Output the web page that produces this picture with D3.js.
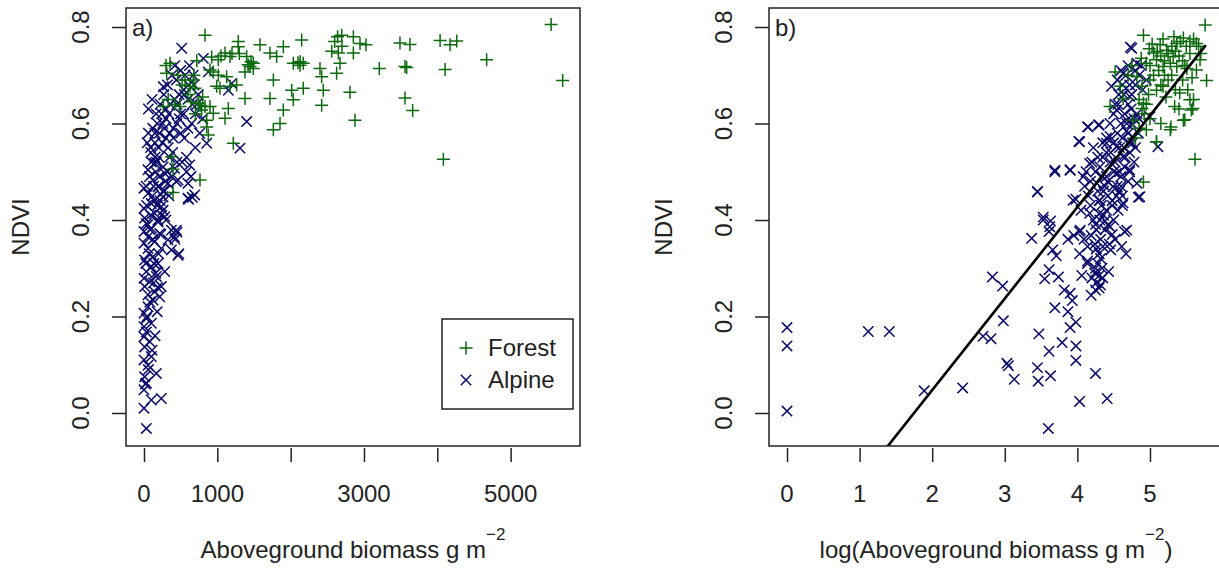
<!DOCTYPE html>
<html>
<head>
<meta charset="UTF-8">
<title>NDVI vs biomass</title>
<style>
    body { margin: 0; background: #fff; }
    svg { font-family: "Liberation Sans", Arial, sans-serif; }
    .frame { fill: none; stroke: #222; stroke-width: 1.5; }
    .tick line { stroke: #222; stroke-width: 1.5; }
    .lbl { fill: #222; font-size: 24px; }
</style>
</head>
<body>
<svg id="chart" width="1219" height="568"></svg>
<script src="https://cdn.jsdelivr.net/npm/d3@7"></script>
<script>

// ---- panel a): biomass (g m-2) vs NDVI ----
let forestBiomass = [5552,5710,4673,4083,4038,4174,4265,4106,3491,3627,3559,3582,3559,3664,3209,2809,2877,2696,2855,2946,3027,2855,2673,
    832,355,309,1286,1286,1582,1900,2150,2650,1105,1173,1400,1491,1718,1809,2036,2127,2172,2400,2423,2627,1764,2014,2172,2445,1377,1718,
    2036,2423,1900,1855,1764,1105,1150,945,1218,855,877,786,764,900,1036,1173,991,1263,1377,1445,1491,900,945,1014,1127,673,627,695,741,
    832,491,264,764,377,855,395,395,923,1014,2100,2130,1420,1460,600,680,560,720,640,700,800,300,330,460,420,520,2560,2600,2700,2640,1050,1200,1300];
let forestNdvi = [0.805,0.689,0.732,0.526,0.772,0.763,0.771,0.712,0.767,0.764,0.718,0.716,0.653,0.627,0.714,0.665,0.607,0.783,0.780,0.766,0.763,0.746,0.725,
    0.783,0.725,0.704,0.770,0.759,0.763,0.759,0.773,0.746,0.746,0.739,0.739,0.725,0.746,0.739,0.725,0.721,0.725,0.714,0.697,0.704,0.690,0.669,0.673,0.669,0.652,0.652,
    0.649,0.638,0.628,0.600,0.587,0.611,0.631,0.621,0.559,0.593,0.576,0.628,0.638,0.635,0.673,0.677,0.677,0.680,0.707,0.718,0.714,0.711,0.707,0.700,0.697,0.690,0.677,0.673,0.642,
    0.635,0.635,0.635,0.483,0.531,0.607,0.505,0.457,0.738,0.732,0.726,0.728,0.722,0.728,0.660,0.700,0.690,0.730,0.645,0.620,0.655,0.720,0.650,0.700,0.640,0.680,0.750,0.770,0.760,0.780,0.740,0.745,0.745];

let alpineBiomass = [32,0,100,236,0,32,9,168,55,0,100,9,77,0,32,0,100,32,0,55,123,214,55,145,236,9,77,0,168,282,32,100,191,9,123,464,373,236,55,0,145,327,414,55,214,0,373,100,441,32,191,9,282,145,0,236,100,259,55,600,691,0,191,327,123,464,600,282,55,418,623,145,
    264,514,809,1400,1309,1196,1150,877,855,659,607,450,475,423,
    150,200,250,300,350,400,450,500,550,600,650,700,180,120,240,300,360,420,480,540,600,660,320,380,440,500,560,270,210,330,390,450,520,580,640,260,320,380,440,200,280,340,160,100,700,760,800,740,620,680,420,480,540,580,220,260,300,180,130,90,60,150,
    20,60,110,150,40,80,130,180,25,70,120,160,200,50,90,140,190,230,30,75,115,170,210,260,45,95,150,205,255,300,60,110,165,220,280,340,35,85,135,185,240,290,350,400,450,500,550,610,670,720];
let alpineNdvi = [-0.032,0.010,0.027,0.030,0.048,0.062,0.075,0.082,0.099,0.110,0.117,0.137,0.148,0.158,0.168,0.179,0.186,0.196,0.207,0.220,0.234,0.241,0.245,0.251,0.262,0.262,0.272,0.279,0.283,0.293,0.293,0.303,0.310,0.317,0.324,0.327,0.338,0.341,0.341,0.352,0.355,0.359,0.365,0.365,0.372,0.376,0.379,0.383,0.379,0.393,0.396,0.404,0.407,0.414,0.424,0.428,0.434,0.448,0.455,0.445,0.452,0.466,0.469,0.476,0.483,0.483,0.476,0.497,0.504,0.507,0.514,0.518,
    0.676,0.756,0.735,0.604,0.549,0.683,0.669,0.707,0.559,0.447,0.443,0.375,0.330,0.360,
    0.53,0.55,0.56,0.57,0.58,0.59,0.60,0.58,0.57,0.59,0.60,0.62,0.60,0.59,0.62,0.63,0.64,0.65,0.66,0.67,0.65,0.64,0.68,0.70,0.69,0.71,0.70,0.66,0.58,0.55,0.54,0.52,0.52,0.50,0.49,0.51,0.50,0.49,0.48,0.47,0.46,0.45,0.50,0.52,0.55,0.58,0.61,0.66,0.72,0.68,0.72,0.61,0.62,0.53,0.44,0.42,0.40,0.43,0.47,0.55,0.58,0.56,
    0.06,0.09,0.13,0.16,0.20,0.23,0.27,0.21,0.31,0.33,0.36,0.29,0.33,0.39,0.41,0.44,0.40,0.37,0.47,0.49,0.45,0.52,0.49,0.46,0.56,0.54,0.58,0.53,0.60,0.61,0.63,0.65,0.62,0.64,0.59,0.62,0.43,0.38,0.31,0.26,0.41,0.48,0.53,0.57,0.64,0.62,0.66,0.68,0.70,0.64];

// ---- panel b): log(biomass) vs NDVI ----
let forestLog = [5.76,5.78,5.62,4.91,4.52,4.45,4.91,5.28,5.46,5.57,5.55,5.41,5.34,5.18,5.09,4.95,5.64,5.69,5.46,5.55,5.64,5.37,5.14,5.23,5.05,5.32,5.09,4.95,5.18,5.37,5.51,4.82,5.00,4.89,5.09,4.91,4.89,4.59,4.63,4.77,5.09,
    5.10,5.15,5.20,5.25,5.28,5.30,5.35,5.40,5.45,5.50,5.55,5.60,5.42,5.48,5.12,5.20,5.25,5.05,5.00,5.15,5.30,5.22,5.35,4.98,4.95,4.92,4.85,5.45,5.58,5.52,5.60,4.70,4.75,4.88,4.85,4.80,5.00,5.15,5.40,5.67,5.70,4.99,5.03,5.33,5.18,5.59,5.48,5.29];
let forestLogNdvi = [0.804,0.689,0.526,0.783,0.707,0.635,0.479,0.587,0.607,0.628,0.649,0.663,0.635,0.677,0.562,0.587,0.711,0.732,0.777,0.770,0.766,0.766,0.763,0.752,0.746,0.739,0.732,0.725,0.718,0.718,0.714,0.697,0.690,0.677,0.669,0.642,0.631,0.677,0.652,0.607,0.562,
    0.750,0.740,0.730,0.745,0.725,0.760,0.750,0.740,0.730,0.760,0.745,0.775,0.770,0.720,0.710,0.700,0.690,0.700,0.720,0.680,0.700,0.655,0.670,0.660,0.640,0.620,0.650,0.690,0.695,0.670,0.650,0.700,0.720,0.735,0.590,0.570,0.610,0.600,0.630,0.760,0.745,0.755,0.765,0.780,0.775,0.631,0.608,0.593];

let alpineLog = [0,0,0,1.12,1.41,1.89,2.42,2.70,2.81,2.83,2.97,2.98,3.03,3.05,3.13,3.37,3.45,3.47,3.45,3.46,3.61,3.63,3.60,3.53,3.63,3.61,3.55,3.61,3.66,3.71,3.69,3.69,3.79,3.74,3.82,3.90,3.93,3.87,3.90,3.98,3.98,3.98,4.03,4.25,4.41,
    3.87,3.95,4.03,4.09,4.19,4.03,4.14,4.25,4.30,4.25,4.19,4.30,4.06,4.14,4.35,4.46,4.43,4.52,4.65,4.67,4.61,4.30,4.38,4.25,3.98,3.90,4.02,4.14,4.30,4.73,4.84,
    4.75,4.15,4.29,4.03,3.69,3.90,3.45,4.47,4.63,4.72,4.54,4.68,4.45,4.40,4.54,4.72,4.63,4.17,4.31,4.40,4.54,4.72,4.82,4.86,4.49,4.27,4.08,3.94,4.31,4.63,4.17,4.31,4.45,3.53,3.62,4.04,4.68,5.00,5.11,4.82,
    4.20,4.25,4.35,4.45,4.50,4.55,4.60,4.65,4.70,4.38,4.42,4.48,4.58,4.62,4.28,4.33,4.36,4.40,4.22,4.26,4.32,4.30,4.28,4.24,4.26,4.32,4.35,4.55,4.60,4.65,4.70,4.75,4.80,4.85,4.58,4.62,4.50,4.45,4.52,4.57,4.62,4.70,4.67,4.75,4.80,4.78,4.72,4.68,4.40,4.35,4.50,4.55,4.60,4.90,4.88,4.95,4.82,4.85,4.10,4.15,4.05,4.12,4.18,
    4.22,4.28,4.34,4.40,4.46,4.52,4.58,4.64,4.70,4.76,4.30,4.36,4.42,4.48,4.54,4.60,4.66,4.72,4.78,4.84,4.18,4.24,4.32,4.38,4.44,4.50,4.56,4.62,4.68,4.74,4.14,4.20,4.26,4.34,4.42,4.48,4.56,4.64,4.72,4.80];
let alpineLogNdvi = [0.177,0.139,0.004,0.169,0.169,0.046,0.052,0.159,0.154,0.282,0.263,0.191,0.103,0.098,0.070,0.362,0.458,0.164,0.094,0.066,0.128,0.077,-0.032,0.406,0.398,0.376,0.278,0.297,0.338,0.326,0.503,0.218,0.146,0.282,0.255,0.248,0.233,0.210,0.177,0.188,0.139,0.109,0.024,0.082,0.030,
    0.360,0.368,0.376,0.360,0.368,0.330,0.315,0.300,0.285,0.255,0.244,0.259,0.285,0.345,0.345,0.338,0.293,0.360,0.376,0.330,0.345,0.413,0.398,0.391,0.443,0.503,0.563,0.593,0.597,0.758,0.447,
    0.756,0.593,0.597,0.562,0.500,0.504,0.459,0.677,0.704,0.656,0.628,0.607,0.573,0.559,0.552,0.559,0.531,0.517,0.510,0.490,0.497,0.504,0.476,0.448,0.469,0.476,0.490,0.441,0.441,0.435,0.414,0.400,0.386,0.400,0.386,0.379,0.379,0.614,0.552,0.725,
    0.52,0.50,0.53,0.52,0.50,0.47,0.49,0.51,0.48,0.47,0.45,0.44,0.46,0.43,0.46,0.43,0.41,0.42,0.40,0.38,0.36,0.33,0.31,0.29,0.27,0.265,0.28,0.58,0.60,0.62,0.64,0.66,0.68,0.70,0.55,0.57,0.56,0.60,0.64,0.66,0.68,0.72,0.70,0.60,0.55,0.52,0.54,0.585,0.54,0.56,0.62,0.69,0.71,0.67,0.72,0.69,0.62,0.61,0.47,0.45,0.42,0.50,0.48,
    0.55,0.53,0.49,0.57,0.54,0.52,0.50,0.55,0.58,0.56,0.44,0.46,0.48,0.43,0.45,0.47,0.53,0.50,0.61,0.58,0.43,0.35,0.32,0.38,0.35,0.40,0.42,0.45,0.60,0.63,0.31,0.28,0.34,0.30,0.39,0.37,0.64,0.66,0.68,0.71];

// fitted line in panel b)
let fitIntercept = -0.332;
let fitSlope = 0.1897;
let fitRange = [0, 5.77];

let yTicks = [0, 0.2, 0.4, 0.6, 0.8];
let xTicksA = [0, 1000, 2000, 3000, 4000, 5000];
let xLabelsA = [0, 1000, 3000, 5000];
let xTicksB = [0, 1, 2, 3, 4, 5];

let forestColor = "#0d690d";
let alpineColor = "#0a0a6a";

let svg = d3.select("#chart");
let plotTop = 8, plotBottom = 446, boxW = 454;

let y = d3.scaleLinear().domain([-0.0684, 0.8394]).range([plotBottom, plotTop]);

function plus(x, yy, s) {
    return "M" + (x - s) + "," + yy + "H" + (x + s) + "M" + x + "," + (yy - s) + "V" + (yy + s);
}
function cross(x, yy, s) {
    return "M" + (x - s) + "," + (yy - s) + "L" + (x + s) + "," + (yy + s) +
           "M" + (x - s) + "," + (yy + s) + "L" + (x + s) + "," + (yy - s);
}

function panel(left, x, xTicks, xLabels, tag, alpX, alpY, forX, forY, title, logTitle) {
    let g = svg.append("g");

    let clipId = "clip" + tag;
    g.append("clipPath").attr("id", clipId)
        .append("rect").attr("x", left).attr("y", plotTop).attr("width", boxW).attr("height", plotBottom - plotTop);

    // points: alpine under forest
    let pts = g.append("g").attr("clip-path", "url(#" + clipId + ")");
    pts.selectAll(".alp").data(d3.range(alpX.length)).enter().append("path")
        .attr("d", i => cross(x(alpX[i]), y(alpY[i]), 5.2))
        .attr("stroke", alpineColor).attr("stroke-width", 1.5).attr("fill", "none");
    pts.selectAll(".for").data(d3.range(forX.length)).enter().append("path")
        .attr("d", i => plus(x(forX[i]), y(forY[i]), 6.5))
        .attr("stroke", forestColor).attr("stroke-width", 1.5).attr("fill", "none");

    if (logTitle) {
        let fit = fitRange.map(v => [x(v), y(fitIntercept + fitSlope * v)]);
        pts.append("path").attr("d", d3.line()(fit))
            .attr("stroke", "#000").attr("stroke-width", 2.6).attr("fill", "none");
    }

    g.append("rect").attr("class", "frame")
        .attr("x", left).attr("y", plotTop).attr("width", boxW).attr("height", plotBottom - plotTop);

    // y axis
    let ya = g.append("g").attr("transform", "translate(" + left + ",0)")
        .call(d3.axisLeft(y).tickValues(yTicks).tickSize(14).tickFormat(""));
    ya.select(".domain").remove();
    g.selectAll(".ylab").data(yTicks).enter().append("text")
        .attr("class", "lbl")
        .attr("transform", d => "translate(" + (left - 37) + "," + y(d) + ") rotate(-90)")
        .attr("text-anchor", "middle")
        .text(d => d3.format(".1f")(d));

    // x axis
    let xa = g.append("g").attr("transform", "translate(0," + (plotBottom + 2) + ")")
        .call(d3.axisBottom(x).tickValues(xTicks).tickSize(14).tickFormat(""));
    xa.select(".domain").remove();
    g.selectAll(".xlab").data(xLabels).enter().append("text")
        .attr("class", "lbl")
        .attr("x", d => x(d)).attr("y", 502)
        .attr("text-anchor", "middle")
        .text(d => d);

    // axis titles
    g.append("text").attr("class", "lbl")
        .attr("transform", "translate(" + (left - 97) + "," + ((plotTop + plotBottom) / 2) + ") rotate(-90)")
        .attr("text-anchor", "middle")
        .text("NDVI");

    let t = g.append("text").attr("class", "lbl")
        .attr("x", left + boxW / 2).attr("y", 558)
        .attr("text-anchor", "middle");
    t.append("tspan").text(title);
    t.append("tspan").attr("dy", -18).style("font-size", "17px").text("\u22122");
    if (logTitle) t.append("tspan").attr("dy", 18).text(")");

    g.append("text").attr("class", "lbl")
        .attr("x", left + 6).attr("y", 36)
        .text(tag + ")");
    return g;
}

// panel a
let xA = d3.scaleLinear().domain([-245.5, 5946]).range([126, 126 + boxW]);
let ga = panel(126, xA, xTicksA, xLabelsA, "a", alpineBiomass, alpineNdvi, forestBiomass, forestNdvi,
    "Aboveground biomass g m", false);

// legend
let lg = ga.append("g");
lg.append("rect").attr("x", 442).attr("y", 319).attr("width", 131).attr("height", 90)
    .attr("fill", "#fff").attr("stroke", "#222").attr("stroke-width", 1.5);
lg.append("path").attr("d", plus(466, 348, 6.5)).attr("stroke", forestColor).attr("stroke-width", 1.5);
lg.append("path").attr("d", cross(466, 380, 5.2)).attr("stroke", alpineColor).attr("stroke-width", 1.5);
lg.append("text").attr("class", "lbl").attr("x", 488).attr("y", 356).text("Forest");
lg.append("text").attr("class", "lbl").attr("x", 488).attr("y", 388).text("Alpine");

// panel b
let xB = d3.scaleLinear().domain([-0.248, 6.006]).range([769, 769 + boxW]);
panel(769, xB, xTicksB, xTicksB, "b", alpineLog, alpineLogNdvi, forestLog, forestLogNdvi,
    "log(Aboveground biomass g m", true);

</script>
</body>
</html>
